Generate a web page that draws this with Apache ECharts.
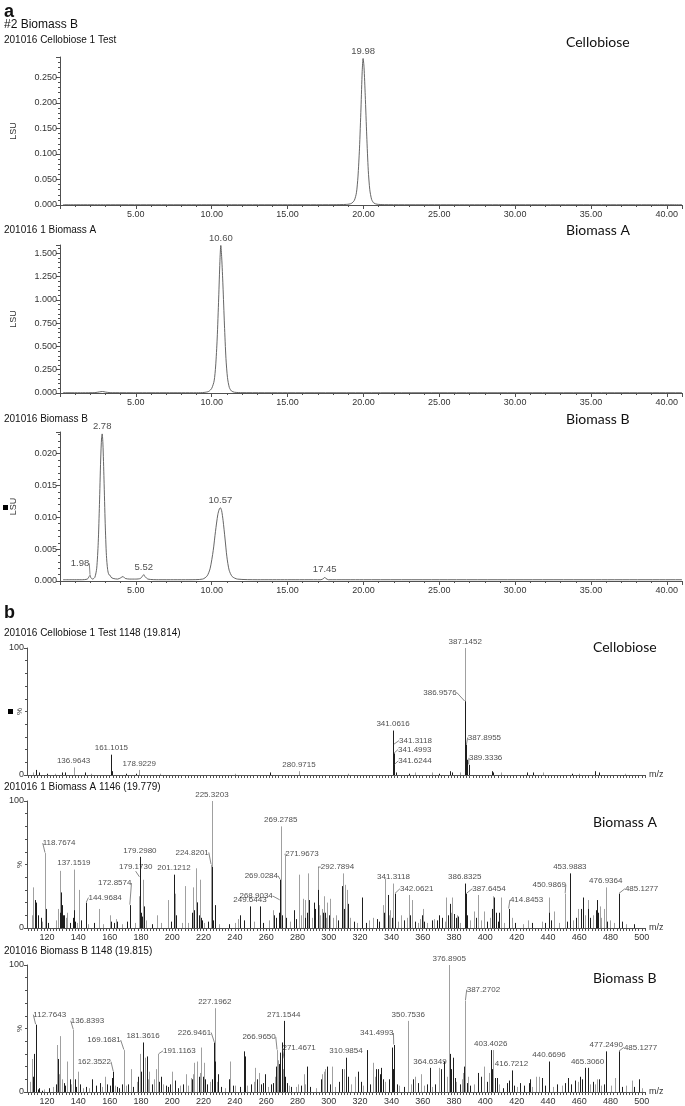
<!DOCTYPE html>
<html><head><meta charset="utf-8">
<script src="https://cdn.jsdelivr.net/npm/echarts@6/dist/echarts.min.js"></script>
<style>html,body{margin:0;padding:0;background:#fff}#c{width:685px;height:1106px}</style>
</head><body><div id="c"></div>
<script>
// ---------- DATA ----------
// chromatogram traces [time(min), LSU]
const cellobioseTrace = [[0.2,0.0005],[3,0.0005],[6,0.0005],[9,0.0005],[12,0.0005],[15,0.0005],[18,0.0006],[18.9,0.0012],[19.2,0.003],[19.4,0.009],[19.54,0.024],[19.64,0.055],[19.74,0.11],[19.84,0.19],[19.92,0.262],[19.98,0.287],[20.04,0.27],[20.12,0.215],[20.22,0.135],[20.32,0.068],[20.42,0.03],[20.54,0.011],[20.68,0.004],[20.9,0.0015],[21.4,0.0007],[24,0.0005],[27,0.0005],[30,0.0005],[33,0.0005],[36,0.0005],[39,0.0005],[41,0.0005]];
const biomassATrace = [[0.2,0.003],[1.5,0.003],[2.3,0.004],[2.6,0.012],[2.8,0.016],[3.0,0.01],[3.3,0.004],[5,0.003],[7,0.003],[9,0.003],[9.5,0.006],[9.8,0.017],[10.0,0.05],[10.16,0.13],[10.26,0.29],[10.36,0.58],[10.46,1.02],[10.54,1.41],[10.6,1.585],[10.66,1.45],[10.74,1.16],[10.84,0.73],[10.94,0.37],[11.04,0.165],[11.16,0.06],[11.3,0.022],[11.5,0.008],[12,0.004],[15,0.003],[20,0.003],[25,0.003],[30,0.003],[35,0.003],[41,0.003]];
const biomassBTrace = [[0.2,0.0002],[0.8,0.0002],[1.4,0.0002],[1.8,0.0003],[1.92,0.0007],[1.98,0.0009],[2.04,0.0005],[2.15,0.0003],[2.3,0.0006],[2.42,0.002],[2.52,0.006],[2.6,0.012],[2.68,0.019],[2.74,0.0225],[2.78,0.0231],[2.83,0.0215],[2.9,0.016],[2.98,0.009],[3.06,0.004],[3.14,0.0018],[3.22,0.001],[3.3,0.0009],[3.36,0.0006],[3.5,0.0004],[3.8,0.0003],[4.0,0.0005],[4.15,0.0007],[4.3,0.0004],[4.6,0.0003],[5.0,0.0003],[5.3,0.0004],[5.45,0.0008],[5.52,0.001],[5.6,0.0007],[5.8,0.0003],[6.5,0.0002],[7.5,0.0002],[8.5,0.0002],[9.4,0.0003],[9.7,0.0008],[9.9,0.002],[10.1,0.0048],[10.25,0.0078],[10.4,0.0104],[10.5,0.0113],[10.57,0.0115],[10.65,0.0111],[10.75,0.0095],[10.88,0.0066],[11.0,0.0038],[11.15,0.0017],[11.35,0.0007],[11.7,0.0003],[13,0.0002],[15,0.0002],[17.2,0.0002],[17.38,0.0004],[17.45,0.0006],[17.52,0.0004],[17.7,0.0002],[20,0.0002],[25,0.0002],[30,0.0002],[35,0.0002],[41,0.0002]];
// labelled chromatogram peaks [time, LSU]
const cellobiosePeaks = [[19.98,0.287]];
const biomassAPeaks = [[10.60,1.585]];
const biomassBPeaks = [[1.98,0.0009],[2.78,0.0231],[5.52,0.001],[10.57,0.0115],[17.45,0.0006]];

// mass spectra sticks [m/z, %]
const msCelloLight = [[387.1452,100],[386.9576,58],[136.9643,6],[178.9229,4],[280.9715,3],[111,2],[125,1],[148,1],[192,1],[240,1],[312,1],[355,2],[366,2],[384,2],[410,2],[437,2],[460,1],[489,1]];
const msCelloDark = [[387.1452,58],[387.3,22],[387.8955,24],[389.3336,8],[341.0616,35],[341.3118,24],[341.4993,17],[341.6244,8],[341.9,4],[161.1015,16],[161.6,3],[113.1,4],[114.6,2],[119.8,1],[129.3,2],[131.4,2],[144,2],[170.5,1],[177,1],[262.6,2],[342.9,2],[351.5,1],[370.5,1],[377.2,3],[378.4,2],[388.2,12],[404.4,3],[405.2,2],[426.5,2],[430.2,2],[455.1,1],[470.3,3],[472.4,2]];
const msCelloLabels = [[387.1452,100],[386.9576,58],[387.8955,24],[389.3336,8],[341.0616,35],[341.3118,24],[341.4993,17],[341.6244,8],[161.1015,16],[136.9643,6],[178.9229,4],[280.9715,3]];

const msALight = [[111,32],[118.7674,59],[127,15],[128.6,45],[133,12],[137.1519,46],[140.5,30],[153,15],[160.5,10],[164,7],[178.5,25],[181,38],[181.6,17],[190.5,10],[197,22],[201.7,27],[208,33],[213,32],[215.3,47],[217.5,38],[224.8201,50],[225.3203,100],[242,7],[264.5,14],[269.2785,80],[271.9673,57],[281,42],[283.5,23],[284.5,22],[287,43],[292.7894,48],[294,18],[295.5,15],[297,25],[299,20],[301,23],[304.5,10],[309,43],[310.4,34],[311.8,30],[328.5,8],[334.9,18],[336,39],[339.2,14],[341.3118,35],[346.2,10],[351.1,26],[353,22],[358.3,7],[360,15],[367.5,7],[375,24],[379,24],[381.8,10],[392.9,13],[395.6,26],[399.3,13],[405.2,25],[410.1,24],[417,8],[427,6],[440.4,24],[444,13],[450.9869,27],[459,15],[465.9,22],[473,17],[475.5,15],[476.9364,32],[479.8,6],
  [110.5,10],[117,5],[126,6],[132,8],[139,4],[146,3],[156,3],[168,3],[176,4],[183,6],[193,4],[206,4],[210,4],[220,4],[230,3],[240,4],[252,5],[262,6],[275,5],[282,10],[289,8],[294.5,10],[298,8],[302.5,8],[313.5,8],[318,4],[326,6],[338.5,10],[344,5],[350,8],[357,4],[363,4],[374,5],[378,12],[384,4],[390,6],[397,6],[403,8],[406.5,10],[412,4],[424,3],[436,5],[447,4],[456,6],[463.5,10],[469,10],[474,8],[482,4],[490,3]];
const msADark = [[112,22],[113,20],[114,10],[116,8],[119.2,15],[129,28],[130,10],[131,10],[137.3,14],[138,5],[144.9684,20],[161,5],[165,5],[172.8574,18],[179.173,40],[179.298,56],[182,17],[201.1212,42],[214,14],[216,20],[218.5,8],[219,6],[225.3203,48],[227,18],[227.4,15],[243,10],[249.6443,17],[256,17],[265.2,10],[268.9034,22],[269.0284,38],[278,14],[279,7],[285,8],[287.3,22],[290.5,20],[293,30],[297.5,12],[308.5,33],[312.5,19],[321,24],[330.7,7],[337.7,26],[342.0621,27],[355,5],[359.4,10],[365.8,6],[369,6],[370.7,10],[377.5,19],[380,11],[382.8,9],[386.8325,35],[387.6454,27],[405.7,24],[407,12],[408.4,5],[414.8453,15],[440.8,12],[453.9883,43],[462.3,24],[465.3,15],[471.3,22],[485.1277,27],[485.6,22],
  [112.5,14],[120.5,4],[128,12],[129.5,18],[134.5,4],[136.5,8],[141.5,6],[150,4],[163,4],[171,5],[173.3,10],[180,12],[180.5,9],[187,3],[199,5],[202.3,10],[212.5,12],[215.8,20],[217,10],[223,5],[226,6],[236,3],[246,6],[258,4],[266,8],[268.5,12],[270,10],[272.5,8],[286,12],[291.5,15],[296,12],[300,10],[306,6],[310,15],[316,5],[324,4],[332,5],[335.5,12],[340.5,8],[348,6],[352,10],[361,5],[372,8],[376,10],[381,8],[388.5,10],[394,8],[401,5],[404.5,15],[409,12],[419,4],[430,4],[438,4],[442,6],[452,5],[458,8],[461,15],[467,8],[470.5,14],[472,12],[478,5],[487,5],[495,3]];
const msALabels = [[225.3203,100],[224.8201,50],[269.2785,80],[271.9673,57],[269.0284,38],[268.9034,22],[249.6443,17],[292.7894,48],[201.1212,42],[179.298,56],[179.173,40],[172.8574,18],[144.9684,20],[137.1519,46],[118.7674,59],[341.3118,35],[342.0621,27],[386.8325,35],[387.6454,27],[414.8453,15],[450.9869,27],[453.9883,43],[476.9364,32],[485.1277,27]];

const msBLight = [[110.3,26],[126.5,37],[128.4,44],[129.5,10],[132.9,24],[136.8393,49],[139.8,16],[157,12],[169.1681,33],[173.8,18],[179.1,30],[182.8,27],[185.4,16],[189.9,18],[191.1163,30],[200,16],[208.6,14],[211.8,11],[214,23],[215.7,24],[218.3,35],[220.4,23],[226.5,18],[227.1962,66],[237.2,24],[253.1,19],[255.3,15],[266.965,33],[280.6,6],[283.9,14],[296.8,16],[297.8,18],[302.2,20],[309.7,18],[316.8,12],[328.5,23],[350.7536,56],[355.2,12],[359,14],[370.1,19],[376.8905,100],[386,15],[387.2702,72],[399.3,20],[404.8,33],[432.3,12],[434,12],[470.2,6],[471.3,10],[483,11],[493.6,9],
  [109,8],[118,2],[124,4],[127.5,14],[135.5,6],[143,3],[147,3],[155,4],[163.5,5],[170.5,5],[177.5,8],[184.6,10],[188.5,10],[194,6],[205,5],[210,5],[213.4,14],[217.5,15],[224,8],[228.3,8],[234,3],[240,5],[248,5],[252,8],[261,4],[265.5,12],[267.4,25],[270.5,18],[274.5,5],[279,4],[285,6],[292,3],[295.9,14],[304,4],[314,6],[322,5],[329.5,12],[336,8],[345,5],[352.5,6],[361,5],[366,4],[375.5,12],[381.5,8],[385,10],[388.9,12],[393,6],[402.3,15],[409,6],[420,4],[430,4],[443,4],[449,5],[459,8],[467,6],[474,5],[480,5],[490,5],[500,3]];
const msBDark = [[111.8,30],[112.7643,53],[113.2,24],[114,2],[116.8,1],[126.9,26],[130.8,7],[134.4,10],[137.6,10],[141.3,6],[149,10],[153.8,7],[160.2,5],[161.3,11],[162.3522,16],[166.2,3],[167.7,6],[171.6,6],[180,16],[181.3616,39],[183.9,28],[192.5,12],[196.1,5],[198.3,6],[201.5,9],[203.6,3],[216.8,12],[219.4,12],[221.1,10],[226.9461,39],[227.4,24],[229.1,14],[238.7,5],[245.8,32],[246.7,28],[254.2,10],[258.1,7],[259.1,14],[264.5,7],[268.8,31],[269.9,39],[271.1544,56],[271.4671,26],[273.1,7],[286,20],[298.9,20],[308.3,18],[310.9854,27],[312.5,12],[318.9,16],[324.7,33],[330.2,18],[331.7,18],[333.2,19],[334.9,10],[340.2,35],[341.4993,37],[343.4,6],[357.3,7],[364.6349,19],[371.6,18],[373.3,24],[377.3,30],[379.2,27],[380.7,11],[388.2,7],[395.6,15],[397.3,12],[403.4026,33],[405.9,11],[407.3,11],[411.6,3],[413.7,7],[415.2,9],[416.7212,17],[422.3,7],[427.6,7],[428.6,10],[436.1,11],[440.4,7],[440.6696,24],[451,7],[453.1,11],[457.4,9],[460.2,12],[463.8,19],[465.306,19],[472.3,10],[477.249,32],[485.1277,32],[498.3,10],
  [110.8,12],[115,3],[121,3],[125.5,6],[131.5,5],[138.5,4],[145,4],[151,5],[158.5,6],[164.8,4],[175,4],[178.4,12],[187,6],[191.8,8],[197,4],[207,6],[212.7,10],[222.5,6],[225.5,10],[231,4],[236.3,10],[243,4],[250,6],[256.5,6],[263,6],[266.3,20],[268.2,22],[272.2,12],[276,4],[282,5],[288,4],[295.3,10],[300.5,6],[306.5,8],[320.5,8],[326.5,6],[332.5,14],[338.5,10],[341,18],[348,4],[353.8,10],[363,6],[368,6],[378,18],[383.5,6],[386.5,20],[390.5,5],[401,8],[404.2,18],[418.5,5],[425,5],[438,5],[446,6],[455,6],[462,10],[469,8],[476,6],[487,4],[495,4]];
const msBLabels = [[376.8905,100],[387.2702,72],[350.7536,56],[341.4993,37],[310.9854,27],[364.6349,19],[403.4026,33],[416.7212,17],[440.6696,24],[465.306,19],[477.249,32],[485.1277,32],[112.7643,53],[136.8393,49],[169.1681,33],[162.3522,16],[181.3616,39],[191.1163,30],[227.1962,66],[226.9461,39],[271.1544,56],[266.965,33],[271.4671,26]];

// tick labels
const msTickLabels = [120,140,160,180,200,220,240,260,280,300,320,340,360,380,400,420,440,460,480,500];

// titles
const panelTitles = ['201016 Cellobiose 1 Test','201016 1 Biomass A','201016 Biomass B'];
const msTitles = ['201016 Cellobiose 1 Test 1148 (19.814)','201016 1 Biomass A 1146 (19.779)','201016 Biomass B 1148 (19.815)'];
const sampleNames = ['Cellobiose','Biomass A','Biomass B'];

// ---------- LAYOUT / STYLE ----------
const FONT = "'Liberation Sans', Arial, sans-serif";
const AX = '#505050';
const chromGrids = [{top:57,h:148},{top:245,h:148},{top:432,h:149}];
const msGrids = [{top:648,h:127},{top:801,h:127},{top:965,h:128}];
const chromYMax = [0.29, 1.59, 0.0234];
const chromYStep = [0.05, 0.25, 0.005];
const chromTitleY = [40, 230, 419];
const msTitleY = [633, 787, 951];
const chromNameY = [42, 230, 419];
const msNameY = [647, 822, 978];
const MS_MIN = 107.2, MS_MAX = 502;
const msTickValues = [];
for (let v = 108; v <= MS_MAX; v += 2) msTickValues.push(v);

// label offsets (label centre relative to peak point, px)
const chromOffsets = {'1.98':[-10,-12]};
const msOffsets = [
  {'386.9576':[-25,-9],'341.3118':[22,-4],'341.4993':[21,-4],'341.6244':[21,-4],'387.8955':[18,-7],'389.3336':[17,-7]},
  {'224.8201':[-19,-12],'271.9673':[17,-2],'269.0284':[-19,-4],'268.9034':[-24,-4],'292.7894':[20,0],'179.1730':[-4,-10],'172.8574':[-15,-22],'144.9684':[19,-5],'118.7674':[14,-10],'342.0621':[22,-5],'387.6454':[23,-5],'414.8453':[18,-9],'450.9869':[-16,-9],'485.1277':[23,-5]},
  {'112.7643':[14,-10],'136.8393':[14,-9],'169.1681':[-20,-10],'162.3522':[-19,-10],'191.1163':[21,-3],'226.9461':[-20,-10],'266.9650':[-18,-13],'271.4671':[15,-11],'341.4993':[-17,-12],'387.2702':[18,-11],'485.1277':[22,-4]}
];

const isMult = (v, s) => Math.abs(v / s - Math.round(v / s)) < 1e-6;

const grids = [], xAxes = [], yAxes = [], series = [];
chromGrids.forEach((g, i) => {
  grids.push({left:60, top:g.top, width:623, height:g.h});
  xAxes.push({type:'value', gridIndex:i, min:0, max:41, interval:5,
    axisLine:{show:true, onZero:false, lineStyle:{color:AX, width:1}},
    axisTick:{show:true, length:4, lineStyle:{color:AX}},
    minorTick:{show:true, splitNumber:5, length:2, lineStyle:{color:AX}},
    axisLabel:{formatter:v => (v > 0 && isMult(v,5) && v <= 40) ? v.toFixed(2) : '', fontSize:9, color:'#333', margin:5, fontFamily:FONT},
    splitLine:{show:false}});
  const step = chromYStep[i];
  yAxes.push({type:'value', gridIndex:i, min:0, max:chromYMax[i], interval:step,
    name:'LSU', nameLocation:'middle', nameRotate:90, nameGap:42,
    nameTextStyle:{fontSize:9, color:'#333', fontFamily:FONT},
    axisLine:{show:true, lineStyle:{color:AX, width:1}},
    axisTick:{show:true, length:4, lineStyle:{color:AX}},
    minorTick:{show:true, splitNumber:5, length:2, lineStyle:{color:AX}},
    axisLabel:{formatter:v => isMult(v, step) ? v.toFixed(3) : '', fontSize:9, color:'#333', margin:3, fontFamily:FONT},
    splitLine:{show:false}});
});
msGrids.forEach((g, j) => {
  const i = j + 3;
  grids.push({left:27, top:g.top, width:618, height:g.h});
  xAxes.push({type:'value', gridIndex:i, min:MS_MIN, max:MS_MAX,
    name:'m/z', nameLocation:'end', nameGap:4, nameTextStyle:{fontSize:9, color:'#333', fontFamily:FONT},
    axisLine:{show:true, onZero:false, lineStyle:{color:AX, width:1}},
    axisTick:{show:true, length:3, customValues:msTickValues, lineStyle:{color:AX}},
    minorTick:{show:false},
    axisLabel:{show:j > 0, customValues:msTickLabels, formatter:v => String(Math.round(v)), fontSize:9, color:'#333', margin:5, fontFamily:FONT},
    splitLine:{show:false}});
  yAxes.push({type:'value', gridIndex:i, min:0, max:100, interval:100,
    name:'%', nameLocation:'middle', nameRotate:90, nameGap:3, nameMoveOverlap:false,
    nameTextStyle:{fontSize:8, color:'#333', fontFamily:FONT},
    axisLine:{show:true, lineStyle:{color:AX, width:1}},
    axisTick:{show:true, length:3, lineStyle:{color:AX}},
    minorTick:{show:true, splitNumber:10, length:2, lineStyle:{color:AX}},
    axisLabel:{fontSize:9, color:'#333', margin:3, fontFamily:FONT},
    splitLine:{show:false}});
});

function makeLayout(offsets){
  return function(p){
    const o = offsets[p.text];
    if (!o) return {};
    const cx = p.rect.x + p.rect.width / 2, cy = p.rect.y + p.rect.height / 2;
    return {x:cx + o[0], y:cy + o[1], align:'center', verticalAlign:'middle'};
  };
}
function labelSeries(idx, peaks, offsets, dec, fs){
  const fmt = v => v.toFixed(dec);
  return {type:'scatter', xAxisIndex:idx, yAxisIndex:idx, silent:true, clip:false, z:5,
    symbolSize:1, itemStyle:{color:'rgba(0,0,0,0)'},
    data:peaks.map(p => ({value:p, labelLine:{show:!!offsets[fmt(p[0])]}})),
    label:{show:true, position:'top', distance:2, formatter:q => fmt(q.value[0]), fontSize:fs, color:'#222', fontFamily:FONT},
    labelLine:{show:true, lineStyle:{color:'#555', width:0.7}},
    labelLayout:makeLayout(offsets)};
}
function stickSeries(idx, data, color){
  return {type:'custom', xAxisIndex:idx, yAxisIndex:idx, silent:true, data:data,
    renderItem:(params, api) => {
      const top = api.coord([api.value(0), api.value(1)]);
      const base = api.coord([api.value(0), 0]);
      const x = Math.round(top[0]) + 0.5;
      return {type:'line', shape:{x1:x, y1:base[1], x2:x, y2:top[1]}, style:{stroke:color, lineWidth:1}};
    }};
}

[cellobioseTrace, biomassATrace, biomassBTrace].forEach((tr, i) => {
  series.push({type:'line', xAxisIndex:i, yAxisIndex:i, data:tr, showSymbol:false, smooth:0.25,
    lineStyle:{color:'#555', width:0.9}, silent:true});
});
[cellobiosePeaks, biomassAPeaks, biomassBPeaks].forEach((pk, i) => {
  series.push(labelSeries(i, pk, chromOffsets, 2, 9.5));
});
[[msCelloLight, msCelloDark, msCelloLabels],[msALight, msADark, msALabels],[msBLight, msBDark, msBLabels]].forEach((s, j) => {
  series.push(stickSeries(j + 3, s[0], '#a0a0a0'));
  series.push(stickSeries(j + 3, s[1], '#1e1e1e'));
  series.push(labelSeries(j + 3, s[2], msOffsets[j], 4, 8));
});

const graphic = [];
const txt = (x, y, text, font) => graphic.push({type:'text', x:x, y:y, silent:true,
  style:{text:text, font:font, fill:'#111', align:'left', verticalAlign:'middle'}});
txt(4, 12, 'a', "bold 18px " + FONT);
txt(4, 25, '#2 Biomass B', "12px " + FONT);
panelTitles.forEach((t, i) => txt(4, chromTitleY[i], t, "10px " + FONT));
txt(4, 613, 'b', "bold 18px " + FONT);
msTitles.forEach((t, i) => txt(4, msTitleY[i], t, "10px " + FONT));
sampleNames.forEach((t, i) => txt(566, chromNameY[i], t, "14px Lato, 'Open Sans', sans-serif"));
sampleNames.forEach((t, i) => txt(593, msNameY[i], t, "14px Lato, 'Open Sans', sans-serif"));
graphic.push({type:'rect', shape:{x:3, y:505, width:5, height:5}, style:{fill:'#000'}, silent:true});
graphic.push({type:'rect', shape:{x:8, y:709, width:5, height:5}, style:{fill:'#000'}, silent:true});

const chart = echarts.init(document.getElementById('c'), null, {renderer:'canvas', width:685, height:1106});
chart.setOption({animation:false, backgroundColor:'#fff', grid:grids, xAxis:xAxes, yAxis:yAxes, series:series, graphic:graphic});
</script></body></html>
